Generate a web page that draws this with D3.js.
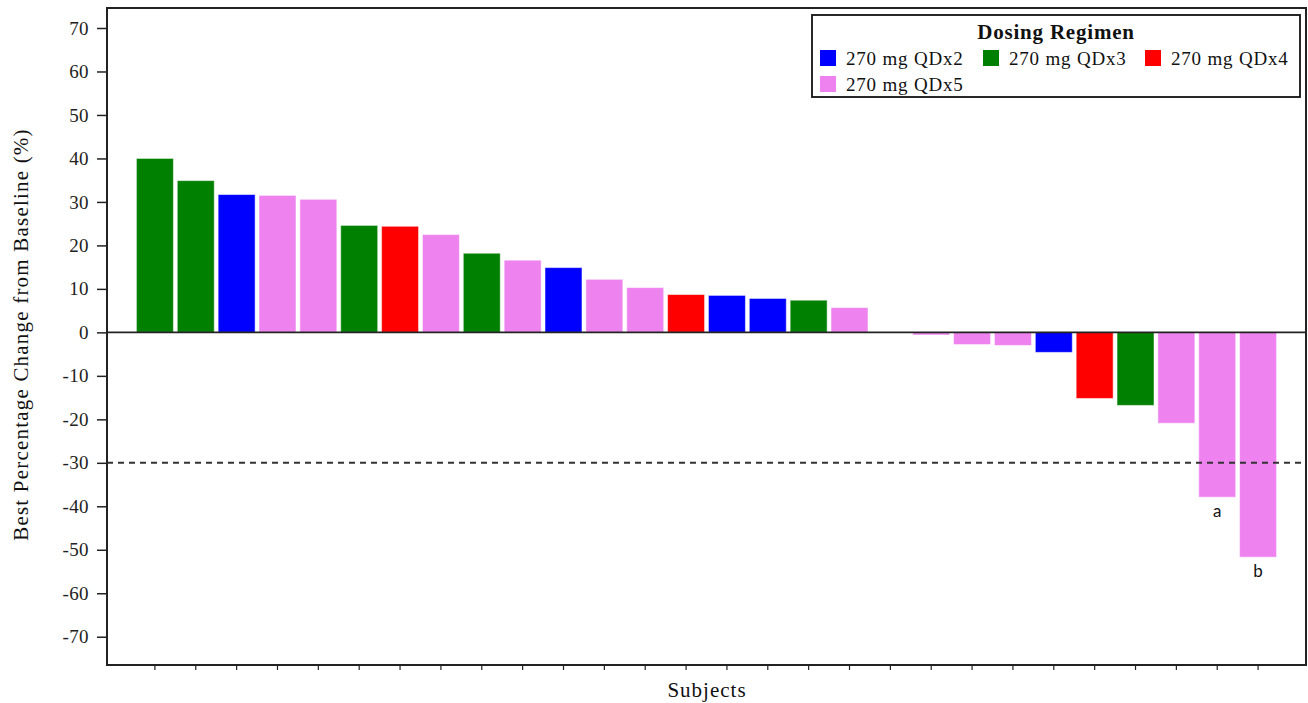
<!DOCTYPE html>
<html>
<head>
<meta charset="utf-8">
<script src="https://cdn.jsdelivr.net/npm/d3@7"></script>
<style>
  body { margin: 0; background: #fff; }
  svg { display: block; }
</style>
</head>
<body>
<svg id="chart" width="1308" height="703"></svg>
<script>
// ---- Data ----
const subjects = d3.range(1, 29).map(i => "S" + i);
const values = [40.0, 34.9, 31.7, 31.5, 30.6, 24.6, 24.4, 22.5, 18.2, 16.6, 14.9, 12.2, 10.3, 8.7, 8.5, 7.8, 7.4, 5.7,
                0, -0.6, -2.8, -3.0, -4.6, -15.2, -16.8, -20.9, -37.9, -51.7];
const regimens = ["QDx3","QDx3","QDx2","QDx5","QDx5","QDx3","QDx4","QDx5","QDx3","QDx5","QDx2","QDx5","QDx5","QDx4",
                  "QDx2","QDx2","QDx3","QDx5","QDx5","QDx5","QDx5","QDx5","QDx2","QDx4","QDx3","QDx5","QDx5","QDx5"];
const legendKeys = ["QDx2", "QDx3", "QDx4", "QDx5"];
const legendLabels = ["270 mg QDx2", "270 mg QDx3", "270 mg QDx4", "270 mg QDx5"];
const legendColors = ["#0000ff", "#008000", "#ff0000", "#ee82ee"];
const yTicks = [70, 60, 50, 40, 30, 20, 10, 0, -10, -20, -30, -40, -50, -60, -70];
const annotations = [{ idx: 26, text: "a" }, { idx: 27, text: "b" }];
const threshold = -30;

// ---- Layout ----
const svg = d3.select("#chart");
const L = 107, R = 1306, T = 8, B = 665;
const serif = "'Liberation Serif', 'Times New Roman', serif";

const x = d3.scaleBand().domain(subjects).range([L, R]).paddingInner(0.095).paddingOuter(0.72);
const y = d3.scaleLinear().domain([-76.5, 74.6]).range([B, T]);
const color = d3.scaleOrdinal().domain(legendKeys).range(legendColors);

// Bars
svg.append("g").selectAll("rect").data(values).join("rect")
  .attr("x", (d, i) => x(subjects[i]))
  .attr("width", x.bandwidth())
  .attr("y", d => y(Math.max(0, d)))
  .attr("height", d => Math.abs(y(d) - y(0)))
  .attr("fill", (d, i) => color(regimens[i]))
  .attr("stroke", "rgba(255,255,255,0.5)")
  .attr("stroke-width", 1);

// Zero line
svg.append("line").attr("x1", L).attr("x2", R).attr("y1", y(0)).attr("y2", y(0))
  .attr("stroke", "#222").attr("stroke-width", 1.6);

// Threshold dashed line
svg.append("line").attr("x1", L).attr("x2", R).attr("y1", y(threshold)).attr("y2", y(threshold))
  .attr("stroke", "#333").attr("stroke-width", 2).attr("stroke-dasharray", "6,5");

// Axes
const yAxis = svg.append("g").attr("transform", `translate(${L},0)`)
  .call(d3.axisLeft(y).tickValues(yTicks).tickSize(10).tickPadding(8).tickFormat(d => String(d)));
yAxis.attr("font-family", null);
yAxis.select(".domain").remove();
yAxis.selectAll("line").attr("stroke", "#222").attr("stroke-width", 1.5);
yAxis.selectAll("text").style("font-family", serif).style("font-size", "19px").attr("fill", "#222")
  .style("letter-spacing", "0.4px");

const xAxis = svg.append("g").attr("transform", `translate(0,${B})`)
  .call(d3.axisBottom(x).tickSize(5).tickFormat(""));
xAxis.select(".domain").remove();
xAxis.selectAll("line").attr("stroke", "#222").attr("stroke-width", 1.2);

// Plot frame
svg.append("rect").attr("x", L).attr("y", T).attr("width", R - L).attr("height", B - T)
  .attr("fill", "none").attr("stroke", "#222").attr("stroke-width", 2);

// Annotations
svg.append("g").selectAll("text").data(annotations).join("text")
  .attr("x", d => x(subjects[d.idx]) + x.bandwidth() / 2)
  .attr("y", d => y(values[d.idx]) + 20)
  .attr("text-anchor", "middle")
  .style("font-family", "Lato, 'Open Sans', sans-serif")
  .style("font-size", "17px")
  .attr("fill", "#111")
  .text(d => d.text);

// Axis titles
svg.append("text")
  .attr("transform", `translate(28,${(T + B) / 2 - 2}) rotate(-90)`)
  .attr("text-anchor", "middle").style("font-family", serif).style("font-size", "21px")
  .style("letter-spacing", "1.2px").attr("fill", "#111")
  .text("Best Percentage Change from Baseline (%)");
svg.append("text")
  .attr("x", 707).attr("y", 697)
  .attr("text-anchor", "middle").style("font-family", serif).style("font-size", "21px")
  .style("letter-spacing", "1px").attr("fill", "#111")
  .text("Subjects");

// Legend
const lg = svg.append("g");
lg.append("rect").attr("x", 812).attr("y", 15).attr("width", 488).attr("height", 82)
  .attr("fill", "#fff").attr("stroke", "#111").attr("stroke-width", 1.8);
lg.append("text").attr("x", 1056).attr("y", 39).attr("text-anchor", "middle")
  .style("font-family", serif).style("font-size", "21px").style("font-weight", "bold")
  .style("letter-spacing", "0.8px").attr("fill", "#111")
  .text("Dosing Regimen");
const legendPos = [[820, 50], [983, 50], [1145, 50], [820, 76]];
const items = lg.selectAll("g.item").data(legendKeys).join("g").attr("class", "item")
  .attr("transform", (d, i) => `translate(${legendPos[i][0]},${legendPos[i][1]})`);
items.append("rect").attr("width", 16).attr("height", 16).attr("fill", d => color(d));
items.append("text").attr("x", 26).attr("y", 15)
  .style("font-family", serif).style("font-size", "19px").style("letter-spacing", "0.8px").attr("fill", "#111")
  .text((d, i) => legendLabels[i]);
</script>
</body>
</html>
